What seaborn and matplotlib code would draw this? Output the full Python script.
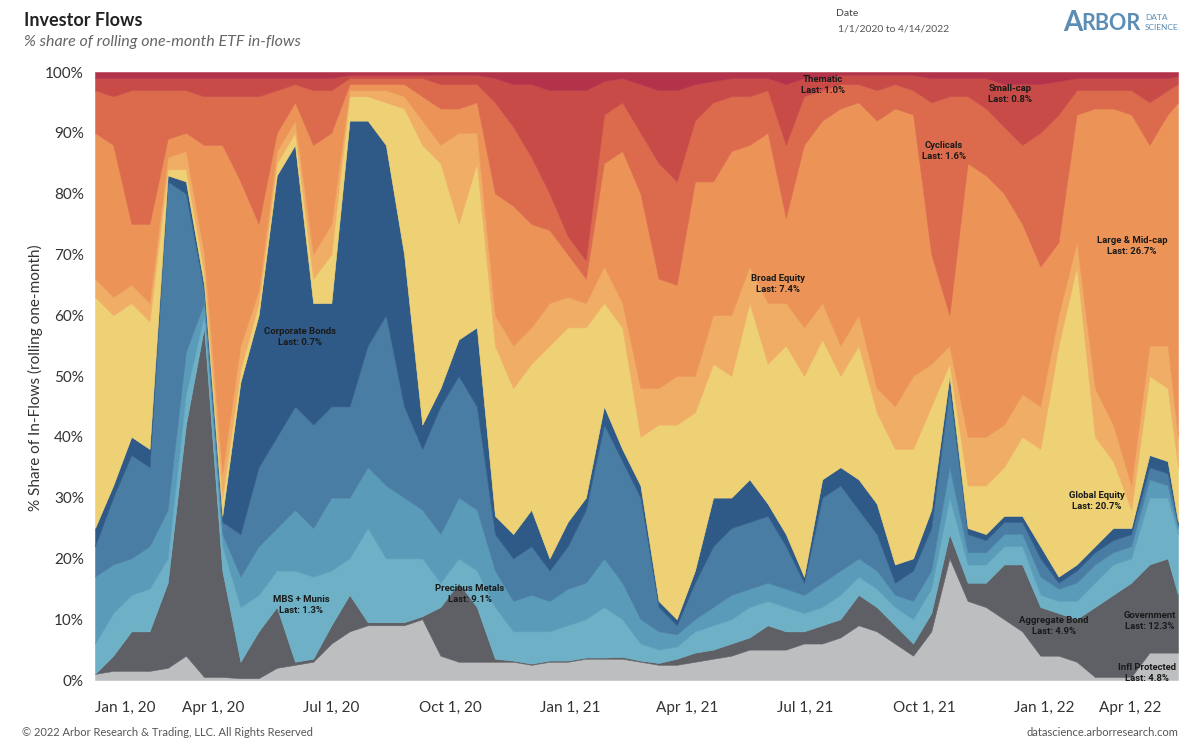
import numpy as np
import pandas as pd
import matplotlib
matplotlib.use("Agg")
import matplotlib.pyplot as plt
import seaborn as sns

# two-week sampling of the rolling one-month share, last point = 4/14/2022
dates = list(pd.date_range("2020-01-01", periods=60, freq="14D")) + [pd.Timestamp("2022-04-14")]

series = ["Infl Protected", "Government", "Aggregate Bond", "MBS + Munis",
          "Precious Metals", "Corporate Bonds", "Global Equity", "Broad Equity",
          "Large & Mid-cap", "Cyclicals", "Small-cap", "Thematic"]
colors = ["#BDBEC0", "#5E6066", "#6EB1C6", "#5A9BBA", "#4A7DA3", "#2F5A88",
          "#EDD174", "#F0AD65", "#EC9457", "#DC6A4C", "#C84B48", "#B3344A"]

# upper edge of each band (cumulative %); Thematic fills to 100
infl_top = [1, 1.5, 1.5, 1.5, 2, 4, 0.5, 0.5, 0.3, 0.3, 2, 2.5, 3, 6, 8, 9, 9, 9, 10, 4,
            3, 3, 3, 3, 2.5, 3, 3, 3.5, 3.5, 3.5, 3, 2.5, 2.5, 3, 3.5, 4, 5, 5, 5, 6,
            6, 7, 9, 8, 6, 4, 8, 20, 13, 12, 10, 8, 4, 4, 3, 0.5, 0.5, 0.5, 4.5, 4.5, 4.5]
govt_top = [1, 4, 8, 8, 16, 42, 58, 18, 3, 8, 12, 3, 3.5, 9, 14, 9.5, 9.5, 9.5, 10.5, 12,
            16, 12, 3.5, 3.2, 2.7, 3.2, 3.2, 3.7, 3.7, 3.8, 3.2, 2.8, 3.5, 4.5, 5, 6, 7, 9, 8, 8,
            9, 10, 14, 12, 9, 6, 11, 24, 16, 16, 19, 19, 12, 11, 10, 12, 14, 16, 19, 20, 14]
agg_top = [6, 11, 14, 15, 20, 47, 60, 22, 12, 14, 18, 18, 17, 18, 20, 25, 20, 20, 20, 16,
           20, 18, 12, 8, 8, 8, 9, 10, 12, 10, 6, 5, 5.5, 8, 9, 10, 12, 13, 12, 11,
           12, 14, 17, 15, 12, 10, 15, 30, 19, 19, 22, 22, 14, 13, 13, 16, 19, 20, 30, 30, 24]
mbs_top = [17, 19, 20, 22, 28, 54, 62, 24, 17, 22, 25, 28, 25, 30, 30, 35, 32, 30, 28, 24,
           30, 28, 18, 13, 14, 13, 15, 16, 20, 16, 10, 8, 7.5, 10, 12, 14, 15, 16, 15, 14,
           16, 18, 20, 18, 14, 13, 18, 35, 21, 21, 24, 24, 17, 15, 16, 19, 21, 22, 33, 32, 25]
metals_top = [22, 30, 37, 35, 82, 80, 64, 26, 24, 35, 40, 45, 42, 45, 45, 55, 60, 45, 38, 45,
              50, 45, 24, 20, 22, 18, 22, 28, 42, 36, 30, 12, 9, 16, 22, 25, 26, 27, 22, 16,
              30, 32, 28, 24, 16, 18, 25, 48, 24, 23, 26, 26, 20, 16, 18, 21, 23, 24, 35, 34, 25.5]
corp_top = [25, 32, 40, 38, 83, 82, 65, 27, 49, 60, 83, 88, 62, 62, 92, 92, 88, 70, 42, 48,
            56, 58, 27, 24, 28, 20, 26, 30, 45, 38, 32, 13, 10, 18, 30, 30, 33, 29, 24, 17,
            33, 35, 33, 29, 19, 20, 28, 50, 25, 24, 27, 27, 22, 17, 19, 22, 25, 25, 37, 36, 26]
global_top = [63, 60, 62, 59, 84, 84, 67, 30, 51, 62, 85, 90, 66, 70, 96, 96, 95, 94, 88, 85,
              75, 85, 55, 48, 52, 55, 58, 58, 62, 58, 40, 42, 42, 44, 52, 50, 62, 52, 55, 50,
              56, 50, 55, 44, 38, 38, 45, 52, 32, 32, 35, 40, 38, 55, 68, 40, 36, 28, 50, 48, 35]
broad_top = [66, 63, 65, 62, 86, 87, 70, 34, 55, 64, 87, 92, 70, 75, 97, 97, 97, 96, 92, 88,
             90, 90, 60, 55, 58, 62, 63, 62, 68, 62, 48, 48, 50, 50, 60, 60, 68, 62, 62, 58,
             62, 55, 60, 48, 45, 50, 52, 55, 40, 40, 42, 47, 45, 60, 72, 48, 42, 32, 55, 55, 40]
large_top = [90, 88, 75, 75, 89, 90, 88, 88, 82, 75, 90, 95, 88, 90, 98, 98, 98, 98, 96, 94,
             94, 95, 80, 78, 75, 74, 70, 66, 85, 87, 80, 66, 65, 82, 82, 87, 88, 90, 76, 88,
             92, 94, 95, 92, 94, 93, 70, 60, 85, 83, 80, 75, 68, 72, 93, 94, 94, 93, 88, 93, 95]
cyc_top = [97, 96, 97, 97, 97, 97, 96, 96, 96, 96, 97, 98, 97, 97, 99, 99, 99, 99, 99, 98,
           98, 98, 95, 91, 86, 80, 73, 69, 93, 95, 90, 85, 82, 92, 95, 96, 96, 97, 88, 96,
           97, 98, 98, 97, 98, 97, 95, 96, 96, 94, 91, 88, 90, 93, 97, 97, 97, 97, 95, 97, 98]
small_top = [99, 99, 99, 99, 99, 99, 99, 99, 99, 99, 99, 99, 99, 99, 99.5, 99.5, 99.5, 99.5, 99.5, 99.5,
             99.5, 99.5, 99, 98, 98, 97, 97, 97, 98.5, 99, 98, 97, 97, 98, 98.5, 99, 99, 99, 98, 99,
             99, 99.5, 99.5, 99.5, 99.5, 99.5, 99, 99, 99, 99, 98, 98, 98, 98.5, 99, 99, 99, 99, 99, 99, 99.3]

last_labels = {
    "Corporate Bonds": ("0.7%", 300, 337), "MBS + Munis": ("1.3%", 301, 605),
    "Precious Metals": ("9.1%", 470, 594), "Thematic": ("1.0%", 823, 85),
    "Broad Equity": ("7.4%", 778, 284), "Cyclicals": ("1.6%", 944, 151),
    "Small-cap": ("0.8%", 1010, 94), "Large & Mid-cap": ("26.7%", 1132, 246),
    "Global Equity": ("20.7%", 1097, 501), "Aggregate Bond": ("4.9%", 1054, 626),
    "Government": ("12.3%", 1150, 621), "Infl Protected": ("4.8%", 1147, 673),
}

tops = np.array([infl_top, govt_top, agg_top, mbs_top, metals_top, corp_top,
                 global_top, broad_top, large_top, cyc_top, small_top], dtype=float)
edges = np.vstack([np.zeros(len(dates)), tops, np.full(len(dates), 100.0)])
shares = np.diff(edges, axis=0)

sns.set_theme(style="white")
plt.rcParams["font.family"] = ["Lato", "DejaVu Sans"]

W, H = 1200, 749
fig = plt.figure(figsize=(W / 100, H / 100), dpi=100)
ax = fig.add_axes([95 / W, 1 - 680 / H, (1178 - 95) / W, (680 - 72) / H])

ax.stackplot(dates, shares, colors=sns.color_palette(colors), labels=series,
             linewidth=0.4, edgecolor="face")

ax.set_ylim(0, 100)
ax.set_xlim(dates[0], dates[-1])
ax.set_yticks(range(0, 101, 10))
ax.set_yticklabels([f"{v}%" for v in range(0, 101, 10)], fontsize=11, color="#333333")
ticks = pd.date_range("2020-01-01", "2022-04-01", freq="QS")
ax.set_xticks(ticks)
tick_text = [f"{d.strftime('%b')} 1, {d.strftime('%y')}" for d in ticks]
ax.set_xticklabels(tick_text, fontsize=11, color="#333333")
labs = ax.get_xticklabels()
labs[0].set_ha("left")
labs[-1].set_ha("right")
ax.tick_params(axis="both", length=0)
ax.tick_params(axis="x", pad=15)
ax.tick_params(axis="y", pad=8)
for s in ax.spines.values():
    s.set_visible(False)

# in-chart labels
for name, (val, px, py) in last_labels.items():
    fig.text(px / W, 1 - py / H, f"{name}\nLast: {val}", ha="center", va="center",
             fontsize=6.8, fontweight="bold", color="#1a1a1a", linespacing=1.35,
             family=["Roboto", "DejaVu Sans"])

fig.text(35 / W, 1 - 378 / H, "% Share of In-Flows (rolling one-month)", rotation=90,
         ha="center", va="center", fontsize=11, color="#333333")

# header
fig.text(24 / W, 1 - 21 / H, "Investor Flows", fontsize=13, fontweight="bold",
         color="#222222", va="center")
fig.text(24 / W, 1 - 42 / H, "% share of rolling one-month ETF in-flows", fontsize=11.5,
         style="italic", color="#666666", va="center")
fig.text(836 / W, 1 - 14 / H, "Date", fontsize=7.5, color="#444444", va="center")
fig.text(838 / W, 1 - 29 / H, "1/1/2020 to 4/14/2022", fontsize=7.5, color="#555555", va="center")
fig.text(1063 / W, 1 - 23 / H, "A", fontsize=20, fontweight="bold", color="#5B8DB5",
         va="center", family=["Lato", "DejaVu Sans"])
fig.text(1081 / W, 1 - 24 / H, "RBOR", fontsize=15.5, fontweight="bold", color="#5B8DB5",
         va="center", family=["Lato", "DejaVu Sans"])
fig.text(1145 / W, 1 - 17 / H, "DATA", fontsize=6, color="#5B8DB5", va="center")
fig.text(1145 / W, 1 - 28 / H, "SCIENCE", fontsize=6, color="#5B8DB5", va="center")

# footer
fig.text(22 / W, 1 - 733 / H, "\u00a9 2022 Arbor Research & Trading, LLC. All Rights Reserved",
         fontsize=8, color="#555555", va="center")
fig.text(1178 / W, 1 - 733 / H, "datascience.arborresearch.com", fontsize=8,
         color="#555555", va="center", ha="right")

fig.savefig("out.png", dpi=100)
